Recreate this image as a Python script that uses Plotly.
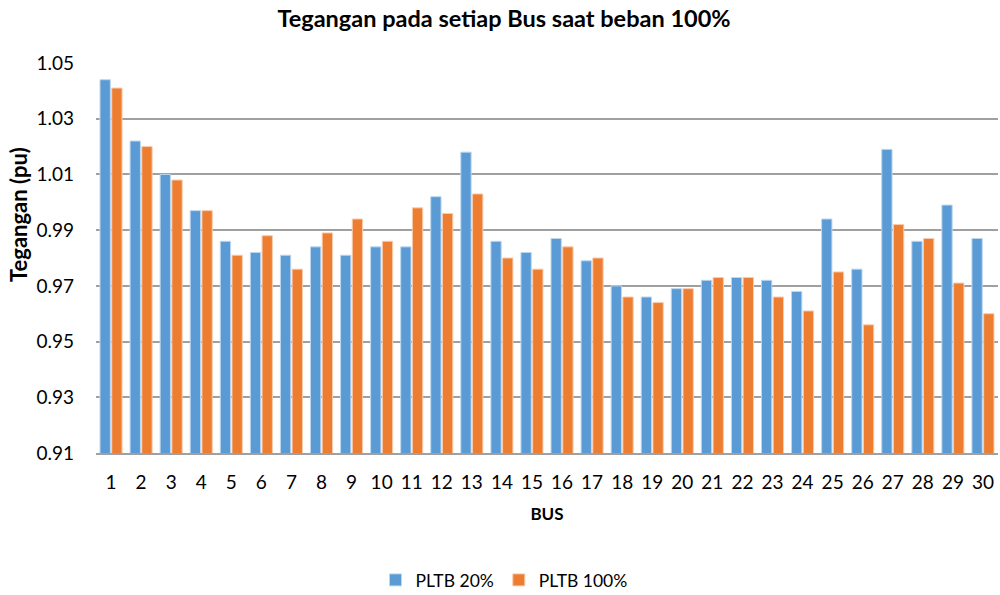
import plotly.graph_objects as go

buses = [str(i) for i in range(1, 31)]
pltb20 = [1.044, 1.022, 1.010, 0.997, 0.986, 0.982, 0.981, 0.984, 0.981, 0.984,
          0.984, 1.002, 1.018, 0.986, 0.982, 0.987, 0.979, 0.970, 0.966, 0.969,
          0.972, 0.973, 0.972, 0.968, 0.994, 0.976, 1.019, 0.986, 0.999, 0.987]
pltb100 = [1.041, 1.020, 1.008, 0.997, 0.981, 0.988, 0.976, 0.989, 0.994, 0.986,
           0.998, 0.996, 1.003, 0.980, 0.976, 0.984, 0.980, 0.966, 0.964, 0.969,
           0.973, 0.973, 0.966, 0.961, 0.975, 0.956, 0.992, 0.987, 0.971, 0.960]
yticks = [0.91, 0.93, 0.95, 0.97, 0.99, 1.01, 1.03, 1.05]

FONT = "Lato"
W, H = 1000, 595

fig = go.Figure()
fig.add_trace(go.Bar(x=buses, y=pltb20, name="PLTB 20%",
                     marker=dict(color="#5B9BD5", line=dict(color="#BDD7EE", width=1))))
fig.add_trace(go.Bar(x=buses, y=pltb100, name="PLTB 100%",
                     marker=dict(color="#ED7D31", line=dict(color="#F8CBAD", width=1))))

fig.update_layout(
    width=W, height=H,
    paper_bgcolor="white", plot_bgcolor="white",
    margin=dict(l=96, r=2, t=63, b=142),
    barmode="group", bargap=0.22, bargroupgap=0.12,
    font=dict(family=FONT, size=16, color="#000000"),
    title=dict(text="<b>Tegangan pada setiap Bus saat beban 100%</b>",
               x=504 / W, xanchor="center", xref="container",
               y=1 - 19 / H, yanchor="middle", yref="container",
               font=dict(family=FONT, size=23.5, color="#000000")),
    legend=dict(orientation="h", x=504 / W, xanchor="center", xref="container",
                y=1 - 580 / H, yanchor="middle", yref="container",
                font=dict(family=FONT, size=17.5), traceorder="normal"),
    showlegend=True,
    annotations=[dict(text="<b>Tegangan (pu)</b>", textangle=-90,
                      xref="paper", yref="paper",
                      x=-(96 - 19) / 902, y=(453 - 215) / 390,
                      xanchor="center", yanchor="middle", showarrow=False,
                      font=dict(family=FONT, size=22, color="#000000"))],
)
fig.update_xaxes(
    type="category", showgrid=False, showline=True, linecolor="#A0A0A0", linewidth=1.5,
    ticks="", ticklabelstandoff=11, automargin=False,
    tickfont=dict(family=FONT, size=19),
    title=dict(text="<b>BUS</b>", font=dict(family=FONT, size=17), standoff=17),
)
fig.update_yaxes(
    range=[0.91, 1.05], tickvals=yticks, ticktext=[f"{v:.2f}" for v in yticks],
    showgrid=True, gridcolor="#A0A0A0", gridwidth=1.5, zeroline=False,
    ticks="", ticklabelstandoff=21, automargin=False,
    tickfont=dict(family=FONT, size=19),
)

fig.write_html("out.html", config={"displayModeBar": False},
               post_script="document.body.style.margin='0';"
                           "document.body.style.overflow='hidden';")
